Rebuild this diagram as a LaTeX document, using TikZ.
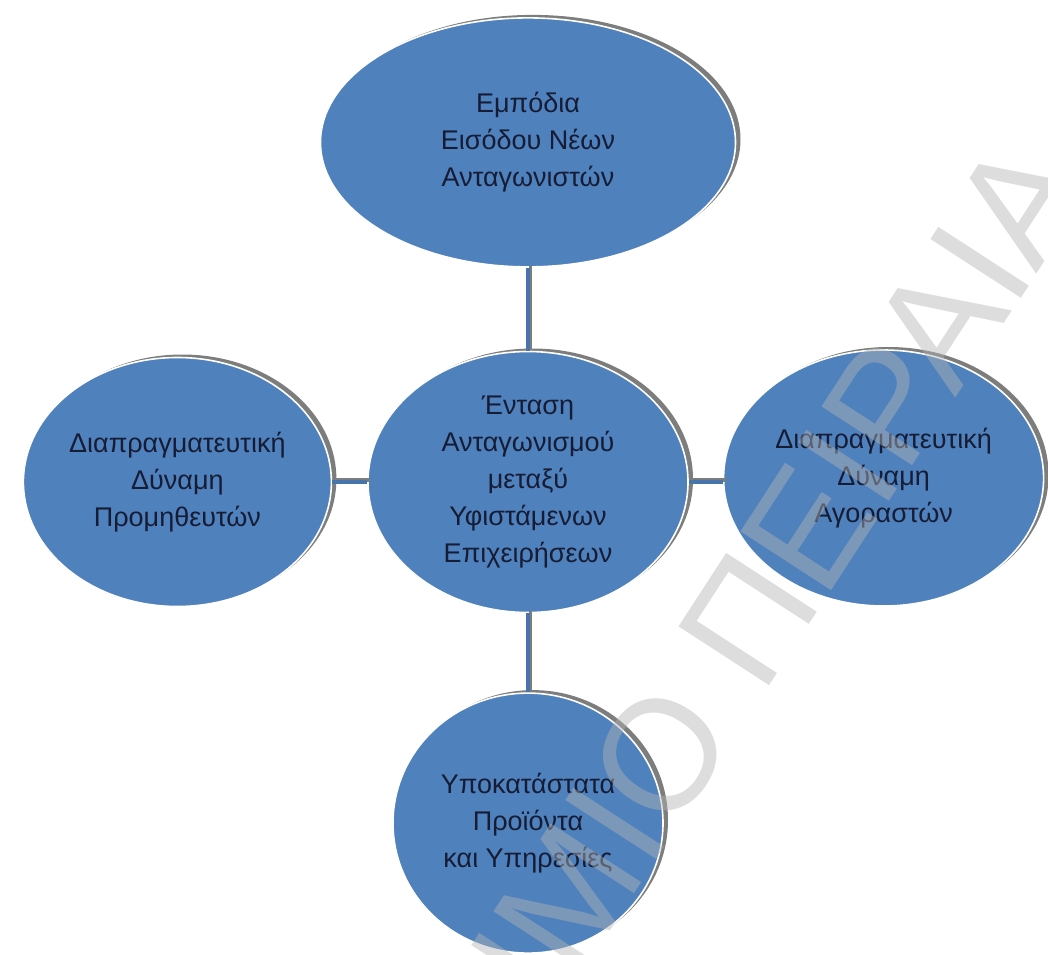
\documentclass[tikz,border=0pt]{standalone}
\usepackage{fontspec}
\setmainfont{Liberation Sans}
\usepackage{tikz}
\usetikzlibrary{shapes.geometric}
\usetikzlibrary{shadows}
\usetikzlibrary{positioning}
\definecolor{forceblue}{RGB}{79,129,189}
\definecolor{linkblue}{RGB}{72,116,172}
\definecolor{shadowgray}{RGB}{125,125,125}
\definecolor{labelnavy}{RGB}{22,28,52}
\definecolor{markgray}{RGB}{180,180,180}
\tikzstyle{force} = [ellipse, fill=forceblue, draw=white, line width=0.8pt, inner sep=0pt, align=center, text=labelnavy, font=\fontsize{13.5}{18.5}\selectfont, drop shadow={shadow xshift=2.5pt, shadow yshift=1.5pt, fill=shadowgray, opacity=1}]
\tikzstyle{link} = [draw=linkblue, line width=1.6pt, preaction={draw=shadowgray, line width=1.6pt, transform canvas={xshift=1.4pt, yshift=1pt}}]

\begin{document}
\begin{tikzpicture}
% Blocks
\node [force, minimum width=160pt, minimum height=130.5pt] (rivalry) {Ένταση\\Ανταγωνισμού\\μεταξύ\\Υφιστάμενων\\Επιχειρήσεων};
\useasboundingbox ([shift={(-264pt,-236pt)}]rivalry.center) rectangle ([shift={(260pt,241pt)}]rivalry.center);
\node [force, minimum width=207.5pt, minimum height=124.5pt, above=41.5pt of rivalry] (entrants) {Εμπόδια\\Εισόδου Νέων\\Ανταγωνιστών};
\node [force, minimum width=154pt, minimum height=124.5pt, left=17.5pt of rivalry] (suppliers) {Διαπραγματευτική\\Δύναμη\\Προμηθευτών};
\node [force, minimum width=160pt, minimum height=128pt, right=17pt of rivalry, yshift=2pt] (buyers) {Διαπραγματευτική\\Δύναμη\\Αγοραστών};
\node [force, minimum width=135pt, minimum height=130pt, below=39.5pt of rivalry] (substitutes) {Υποκατάστατα\\Προϊόντα\\και Υπηρεσίες};

% Links
\draw [link] (entrants.south) -- (rivalry.north);
\draw [link] (suppliers.east) -- (rivalry.west);
\draw [link] (rivalry.east) -- (buyers.west |- rivalry.east);
\draw [link] (rivalry.south) -- (substitutes.north);

% Watermark
\node [anchor=base east, rotate=57, text=markgray, opacity=0.45, font=\fontsize{78.5}{80}\selectfont, inner sep=0pt] (mark) at ([shift={(283pt,148pt)}]rivalry.center) {ΠΑΝΕΠΙΣΤΗΜΙΟ ΠΕΙΡΑΙΑ};
\end{tikzpicture}
\end{document}
